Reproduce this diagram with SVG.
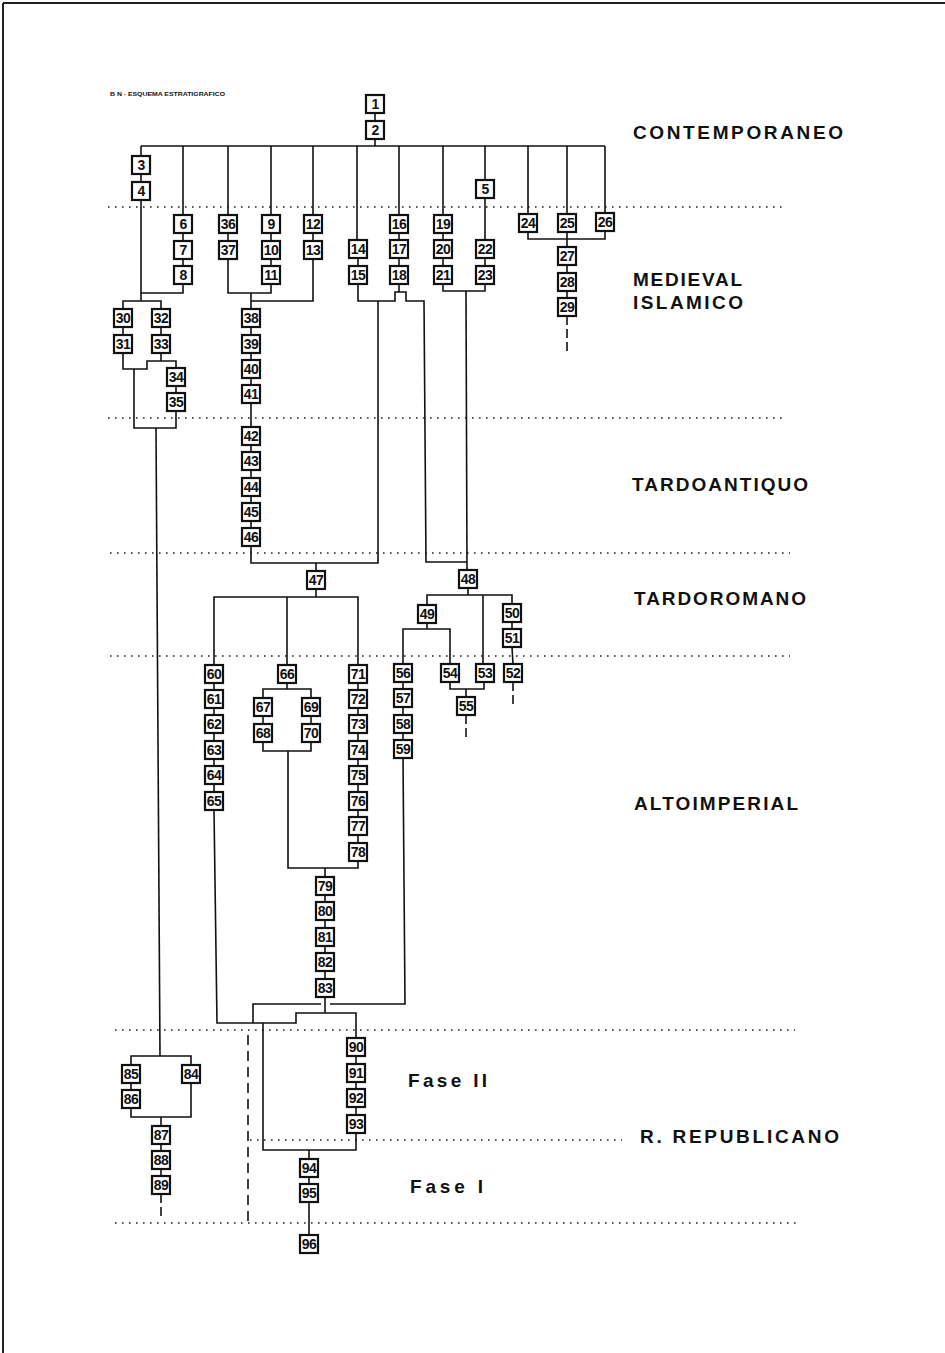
<svg xmlns="http://www.w3.org/2000/svg" width="945" height="1353" viewBox="0 0 945 1353">
<style>
.node rect{fill:#fff;stroke:#111;stroke-width:2.2}
.node text{font-family:"Liberation Sans",Arial,sans-serif;font-weight:bold;font-size:14px;letter-spacing:-0.6px;fill:#111;text-anchor:middle}
.conn{fill:none;stroke:#111;stroke-width:1.6}
.tail{fill:none;stroke:#111;stroke-width:1.6;stroke-dasharray:9 4}
.dot{fill:none;stroke:#222;stroke-width:1.6;stroke-dasharray:1.6 5.4}
.lbl{font-family:"Liberation Sans",Arial,sans-serif;font-weight:bold;font-size:19px;fill:#111}
.frame{fill:none;stroke:#222;stroke-width:2}
</style>
<rect width="945" height="1353" fill="#fff"/>
<g id="frame">
<line class="frame" x1="3" y1="3" x2="945" y2="3"/>
<line class="frame" x1="3" y1="3" x2="3" y2="1353"/>
</g>
<text x="110" y="96" font-family="Liberation Sans,Arial,sans-serif" font-weight="bold" font-size="5" textLength="115" lengthAdjust="spacingAndGlyphs" fill="#111">B N · ESQUEMA ESTRATIGRAFICO</text>
<g id="periods">
<line class="dot" x1="108" y1="207" x2="783" y2="207"/>
<line class="dot" x1="108" y1="418" x2="786" y2="418"/>
<line class="dot" x1="110" y1="553" x2="790" y2="553"/>
<line class="dot" x1="110" y1="656" x2="790" y2="656"/>
<line class="dot" x1="115" y1="1030" x2="795" y2="1030"/>
<line class="dot" x1="250" y1="1140" x2="622" y2="1140"/>
<line class="dot" x1="115" y1="1223" x2="797" y2="1223"/>
<text class="lbl" x="633" y="139" textLength="210" lengthAdjust="spacing">CONTEMPORANEO</text>
<text class="lbl" x="633" y="286" textLength="109" lengthAdjust="spacing">MEDIEVAL</text>
<text class="lbl" x="633" y="309" textLength="110" lengthAdjust="spacing">ISLAMICO</text>
<text class="lbl" x="632" y="491" textLength="176" lengthAdjust="spacing">TARDOANTIQUO</text>
<text class="lbl" x="634" y="605" textLength="172" lengthAdjust="spacing">TARDOROMANO</text>
<text class="lbl" x="634" y="810" textLength="164" lengthAdjust="spacing">ALTOIMPERIAL</text>
<text class="lbl" x="408" y="1087" textLength="79" lengthAdjust="spacing">Fase II</text>
<text class="lbl" x="640" y="1143" textLength="199" lengthAdjust="spacing">R. REPUBLICANO</text>
<text class="lbl" x="410" y="1193" textLength="73" lengthAdjust="spacing">Fase I</text>
</g>
<g id="connectors">
<polyline class="conn" points="375,113 375,121"/>
<polyline class="conn" points="375,139 375,146"/>
<polyline class="conn" points="141,146 605,146"/>
<polyline class="conn" points="141,146 141,156"/>
<polyline class="conn" points="141,174 141,182"/>
<polyline class="conn" points="141,200 141,293 183,293 183,284"/>
<polyline class="conn" points="183,146 183,215"/>
<polyline class="conn" points="183,233 183,241"/>
<polyline class="conn" points="183,259 183,266"/>
<polyline class="conn" points="228,146 228,215"/>
<polyline class="conn" points="228,233 228,241"/>
<polyline class="conn" points="228,259 228,293 271,293 271,284"/>
<polyline class="conn" points="271,146 271,215"/>
<polyline class="conn" points="271,233 271,241"/>
<polyline class="conn" points="271,259 271,266"/>
<polyline class="conn" points="313,146 313,215"/>
<polyline class="conn" points="313,233 313,241"/>
<polyline class="conn" points="313,259 313,301 251,301"/>
<polyline class="conn" points="251,293 251,309"/>
<polyline class="conn" points="251,327 251,527"/>
<polyline class="conn" points="251,546 251,563 378,563 378,301"/>
<polyline class="conn" points="357,146 357,240"/>
<polyline class="conn" points="358,258 358,266"/>
<polyline class="conn" points="358,284 358,301 395,301 395,292 406,292 406,301 424,301 426,562 467,562"/>
<polyline class="conn" points="399,146 399,215"/>
<polyline class="conn" points="399,233 399,240"/>
<polyline class="conn" points="399,258 399,266"/>
<polyline class="conn" points="399,284 399,292"/>
<polyline class="conn" points="443,146 443,215"/>
<polyline class="conn" points="443,233 443,240"/>
<polyline class="conn" points="443,258 443,266"/>
<polyline class="conn" points="443,284 443,291 485,291 485,284"/>
<polyline class="conn" points="466,291 467,570"/>
<polyline class="conn" points="485,146 485,180"/>
<polyline class="conn" points="485,198 485,240"/>
<polyline class="conn" points="485,258 485,266"/>
<polyline class="conn" points="528,146 528,214"/>
<polyline class="conn" points="528,232 528,239 605,239 605,231"/>
<polyline class="conn" points="605,146 605,213"/>
<polyline class="conn" points="567,146 567,214"/>
<polyline class="conn" points="567,232 567,247"/>
<polyline class="conn" points="567,265 567,273"/>
<polyline class="conn" points="567,291 567,298"/>
<polyline class="tail" points="567,316 567,353"/>
<polyline class="conn" points="141,293 141,301"/>
<polyline class="conn" points="123,309 123,301 161,301 161,309"/>
<polyline class="conn" points="123,327 123,335"/>
<polyline class="conn" points="161,327 161,335"/>
<polyline class="conn" points="123,353 123,369 147,369 147,361 176,361 176,368"/>
<polyline class="conn" points="161,353 161,361"/>
<polyline class="conn" points="176,386 176,393"/>
<polyline class="conn" points="176,411 176,428 134,428 134,369"/>
<polyline class="conn" points="156,428 160,1056"/>
<polyline class="conn" points="131,1065 131,1056 191,1056 191,1065"/>
<polyline class="conn" points="131,1083 131,1090"/>
<polyline class="conn" points="131,1108 131,1117 191,1117 191,1083"/>
<polyline class="conn" points="161,1117 161,1126"/>
<polyline class="conn" points="161,1144 161,1151"/>
<polyline class="conn" points="161,1169 161,1176"/>
<polyline class="tail" points="161,1194 161,1220"/>
<polyline class="conn" points="316,563 316,571"/>
<polyline class="conn" points="316,589 316,597"/>
<polyline class="conn" points="214,665 214,597 358,597 358,665"/>
<polyline class="conn" points="287,597 287,665"/>
<polyline class="conn" points="214,683 214,792"/>
<polyline class="conn" points="214,810 217,1023 296,1023 296,1013 356,1013 356,1038"/>
<polyline class="conn" points="287,683 287,689"/>
<polyline class="conn" points="263,698 263,689 311,689 311,698"/>
<polyline class="conn" points="263,716 263,724"/>
<polyline class="conn" points="311,716 311,724"/>
<polyline class="conn" points="263,742 263,751 311,751 311,742"/>
<polyline class="conn" points="288,751 288,868 358,868 358,861"/>
<polyline class="conn" points="358,683 358,843"/>
<polyline class="conn" points="325,868 325,877"/>
<polyline class="conn" points="325,895 325,979"/>
<polyline class="conn" points="325,997 325,1013"/>
<polyline class="conn" points="253,1023 253,1004 321,1004"/>
<polyline class="conn" points="330,1004 405,1004 403,758"/>
<polyline class="conn" points="403,682 403,740"/>
<polyline class="conn" points="468,588 468,595"/>
<polyline class="conn" points="427,605 427,595 512,595 512,604"/>
<polyline class="conn" points="483,595 483,664"/>
<polyline class="conn" points="512,622 512,629"/>
<polyline class="conn" points="512,647 513,664"/>
<polyline class="tail" points="513,682 513,705"/>
<polyline class="conn" points="427,623 427,629"/>
<polyline class="conn" points="403,664 403,629 450,629 450,664"/>
<polyline class="conn" points="450,682 450,689 484,689 484,682"/>
<polyline class="conn" points="466,689 466,697"/>
<polyline class="tail" points="466,715 466,740"/>
<polyline class="conn" points="263,1023 263,1150 356,1150 356,1133"/>
<polyline class="conn" points="356,1056 356,1115"/>
<polyline class="conn" points="309,1150 309,1159"/>
<polyline class="conn" points="309,1177 309,1184"/>
<polyline class="conn" points="309,1202 309,1235"/>
<polyline class="conn" points="248,1035 248,1222" stroke-dasharray="10 6"/>
</g>
<g id="n1" class="node"><rect x="366" y="95" width="18" height="18"/><text x="375" y="109">1</text></g>
<g id="n2" class="node"><rect x="366" y="121" width="18" height="18"/><text x="375" y="135">2</text></g>
<g id="n3" class="node"><rect x="132" y="156" width="18" height="18"/><text x="141" y="170">3</text></g>
<g id="n4" class="node"><rect x="132" y="182" width="18" height="18"/><text x="141" y="196">4</text></g>
<g id="n5" class="node"><rect x="476" y="180" width="18" height="18"/><text x="485" y="194">5</text></g>
<g id="n6" class="node"><rect x="174" y="215" width="18" height="18"/><text x="183" y="229">6</text></g>
<g id="n7" class="node"><rect x="174" y="241" width="18" height="18"/><text x="183" y="255">7</text></g>
<g id="n8" class="node"><rect x="174" y="266" width="18" height="18"/><text x="183" y="280">8</text></g>
<g id="n9" class="node"><rect x="262" y="215" width="18" height="18"/><text x="271" y="229">9</text></g>
<g id="n10" class="node"><rect x="262" y="241" width="18" height="18"/><text x="271" y="255">10</text></g>
<g id="n11" class="node"><rect x="262" y="266" width="18" height="18"/><text x="271" y="280">11</text></g>
<g id="n12" class="node"><rect x="304" y="215" width="18" height="18"/><text x="313" y="229">12</text></g>
<g id="n13" class="node"><rect x="304" y="241" width="18" height="18"/><text x="313" y="255">13</text></g>
<g id="n14" class="node"><rect x="349" y="240" width="18" height="18"/><text x="358" y="254">14</text></g>
<g id="n15" class="node"><rect x="349" y="266" width="18" height="18"/><text x="358" y="280">15</text></g>
<g id="n16" class="node"><rect x="390" y="215" width="18" height="18"/><text x="399" y="229">16</text></g>
<g id="n17" class="node"><rect x="390" y="240" width="18" height="18"/><text x="399" y="254">17</text></g>
<g id="n18" class="node"><rect x="390" y="266" width="18" height="18"/><text x="399" y="280">18</text></g>
<g id="n19" class="node"><rect x="434" y="215" width="18" height="18"/><text x="443" y="229">19</text></g>
<g id="n20" class="node"><rect x="434" y="240" width="18" height="18"/><text x="443" y="254">20</text></g>
<g id="n21" class="node"><rect x="434" y="266" width="18" height="18"/><text x="443" y="280">21</text></g>
<g id="n22" class="node"><rect x="476" y="240" width="18" height="18"/><text x="485" y="254">22</text></g>
<g id="n23" class="node"><rect x="476" y="266" width="18" height="18"/><text x="485" y="280">23</text></g>
<g id="n24" class="node"><rect x="519" y="214" width="18" height="18"/><text x="528" y="228">24</text></g>
<g id="n25" class="node"><rect x="558" y="214" width="18" height="18"/><text x="567" y="228">25</text></g>
<g id="n26" class="node"><rect x="596" y="213" width="18" height="18"/><text x="605" y="227">26</text></g>
<g id="n27" class="node"><rect x="558" y="247" width="18" height="18"/><text x="567" y="261">27</text></g>
<g id="n28" class="node"><rect x="558" y="273" width="18" height="18"/><text x="567" y="287">28</text></g>
<g id="n29" class="node"><rect x="558" y="298" width="18" height="18"/><text x="567" y="312">29</text></g>
<g id="n30" class="node"><rect x="114" y="309" width="18" height="18"/><text x="123" y="323">30</text></g>
<g id="n31" class="node"><rect x="114" y="335" width="18" height="18"/><text x="123" y="349">31</text></g>
<g id="n32" class="node"><rect x="152" y="309" width="18" height="18"/><text x="161" y="323">32</text></g>
<g id="n33" class="node"><rect x="152" y="335" width="18" height="18"/><text x="161" y="349">33</text></g>
<g id="n34" class="node"><rect x="167" y="368" width="18" height="18"/><text x="176" y="382">34</text></g>
<g id="n35" class="node"><rect x="167" y="393" width="18" height="18"/><text x="176" y="407">35</text></g>
<g id="n36" class="node"><rect x="219" y="215" width="18" height="18"/><text x="228" y="229">36</text></g>
<g id="n37" class="node"><rect x="219" y="241" width="18" height="18"/><text x="228" y="255">37</text></g>
<g id="n38" class="node"><rect x="242" y="309" width="18" height="18"/><text x="251" y="323">38</text></g>
<g id="n39" class="node"><rect x="242" y="335" width="18" height="18"/><text x="251" y="349">39</text></g>
<g id="n40" class="node"><rect x="242" y="360" width="18" height="18"/><text x="251" y="374">40</text></g>
<g id="n41" class="node"><rect x="242" y="385" width="18" height="18"/><text x="251" y="399">41</text></g>
<g id="n42" class="node"><rect x="242" y="427" width="18" height="18"/><text x="251" y="441">42</text></g>
<g id="n43" class="node"><rect x="242" y="452" width="18" height="18"/><text x="251" y="466">43</text></g>
<g id="n44" class="node"><rect x="242" y="478" width="18" height="18"/><text x="251" y="492">44</text></g>
<g id="n45" class="node"><rect x="242" y="503" width="18" height="18"/><text x="251" y="517">45</text></g>
<g id="n46" class="node"><rect x="242" y="528" width="18" height="18"/><text x="251" y="542">46</text></g>
<g id="n47" class="node"><rect x="307" y="571" width="18" height="18"/><text x="316" y="585">47</text></g>
<g id="n48" class="node"><rect x="459" y="570" width="18" height="18"/><text x="468" y="584">48</text></g>
<g id="n49" class="node"><rect x="418" y="605" width="18" height="18"/><text x="427" y="619">49</text></g>
<g id="n50" class="node"><rect x="503" y="604" width="18" height="18"/><text x="512" y="618">50</text></g>
<g id="n51" class="node"><rect x="503" y="629" width="18" height="18"/><text x="512" y="643">51</text></g>
<g id="n52" class="node"><rect x="504" y="664" width="18" height="18"/><text x="513" y="678">52</text></g>
<g id="n53" class="node"><rect x="476" y="664" width="18" height="18"/><text x="485" y="678">53</text></g>
<g id="n54" class="node"><rect x="441" y="664" width="18" height="18"/><text x="450" y="678">54</text></g>
<g id="n55" class="node"><rect x="457" y="697" width="18" height="18"/><text x="466" y="711">55</text></g>
<g id="n56" class="node"><rect x="394" y="664" width="18" height="18"/><text x="403" y="678">56</text></g>
<g id="n57" class="node"><rect x="394" y="689" width="18" height="18"/><text x="403" y="703">57</text></g>
<g id="n58" class="node"><rect x="394" y="715" width="18" height="18"/><text x="403" y="729">58</text></g>
<g id="n59" class="node"><rect x="394" y="740" width="18" height="18"/><text x="403" y="754">59</text></g>
<g id="n60" class="node"><rect x="205" y="665" width="18" height="18"/><text x="214" y="679">60</text></g>
<g id="n61" class="node"><rect x="205" y="690" width="18" height="18"/><text x="214" y="704">61</text></g>
<g id="n62" class="node"><rect x="205" y="715" width="18" height="18"/><text x="214" y="729">62</text></g>
<g id="n63" class="node"><rect x="205" y="741" width="18" height="18"/><text x="214" y="755">63</text></g>
<g id="n64" class="node"><rect x="205" y="766" width="18" height="18"/><text x="214" y="780">64</text></g>
<g id="n65" class="node"><rect x="205" y="792" width="18" height="18"/><text x="214" y="806">65</text></g>
<g id="n66" class="node"><rect x="278" y="665" width="18" height="18"/><text x="287" y="679">66</text></g>
<g id="n67" class="node"><rect x="254" y="698" width="18" height="18"/><text x="263" y="712">67</text></g>
<g id="n68" class="node"><rect x="254" y="724" width="18" height="18"/><text x="263" y="738">68</text></g>
<g id="n69" class="node"><rect x="302" y="698" width="18" height="18"/><text x="311" y="712">69</text></g>
<g id="n70" class="node"><rect x="302" y="724" width="18" height="18"/><text x="311" y="738">70</text></g>
<g id="n71" class="node"><rect x="349" y="665" width="18" height="18"/><text x="358" y="679">71</text></g>
<g id="n72" class="node"><rect x="349" y="690" width="18" height="18"/><text x="358" y="704">72</text></g>
<g id="n73" class="node"><rect x="349" y="715" width="18" height="18"/><text x="358" y="729">73</text></g>
<g id="n74" class="node"><rect x="349" y="741" width="18" height="18"/><text x="358" y="755">74</text></g>
<g id="n75" class="node"><rect x="349" y="766" width="18" height="18"/><text x="358" y="780">75</text></g>
<g id="n76" class="node"><rect x="349" y="792" width="18" height="18"/><text x="358" y="806">76</text></g>
<g id="n77" class="node"><rect x="349" y="817" width="18" height="18"/><text x="358" y="831">77</text></g>
<g id="n78" class="node"><rect x="349" y="843" width="18" height="18"/><text x="358" y="857">78</text></g>
<g id="n79" class="node"><rect x="316" y="877" width="18" height="18"/><text x="325" y="891">79</text></g>
<g id="n80" class="node"><rect x="316" y="902" width="18" height="18"/><text x="325" y="916">80</text></g>
<g id="n81" class="node"><rect x="316" y="928" width="18" height="18"/><text x="325" y="942">81</text></g>
<g id="n82" class="node"><rect x="316" y="953" width="18" height="18"/><text x="325" y="967">82</text></g>
<g id="n83" class="node"><rect x="316" y="979" width="18" height="18"/><text x="325" y="993">83</text></g>
<g id="n84" class="node"><rect x="182" y="1065" width="18" height="18"/><text x="191" y="1079">84</text></g>
<g id="n85" class="node"><rect x="122" y="1065" width="18" height="18"/><text x="131" y="1079">85</text></g>
<g id="n86" class="node"><rect x="122" y="1090" width="18" height="18"/><text x="131" y="1104">86</text></g>
<g id="n87" class="node"><rect x="152" y="1126" width="18" height="18"/><text x="161" y="1140">87</text></g>
<g id="n88" class="node"><rect x="152" y="1151" width="18" height="18"/><text x="161" y="1165">88</text></g>
<g id="n89" class="node"><rect x="152" y="1176" width="18" height="18"/><text x="161" y="1190">89</text></g>
<g id="n90" class="node"><rect x="347" y="1038" width="18" height="18"/><text x="356" y="1052">90</text></g>
<g id="n91" class="node"><rect x="347" y="1064" width="18" height="18"/><text x="356" y="1078">91</text></g>
<g id="n92" class="node"><rect x="347" y="1089" width="18" height="18"/><text x="356" y="1103">92</text></g>
<g id="n93" class="node"><rect x="347" y="1115" width="18" height="18"/><text x="356" y="1129">93</text></g>
<g id="n94" class="node"><rect x="300" y="1159" width="18" height="18"/><text x="309" y="1173">94</text></g>
<g id="n95" class="node"><rect x="300" y="1184" width="18" height="18"/><text x="309" y="1198">95</text></g>
<g id="n96" class="node"><rect x="300" y="1235" width="18" height="18"/><text x="309" y="1249">96</text></g>
</svg>
